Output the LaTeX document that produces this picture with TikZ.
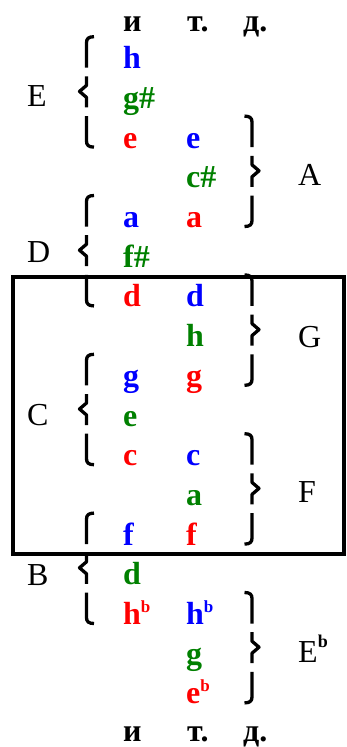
\documentclass[tikz,border=0pt]{standalone}
\usepackage{fontspec}
\setmainfont{Liberation Serif}
\newcommand\notefont{\fontsize{32}{32}\selectfont\bfseries}
\newcommand\lblfont{\fontsize{32}{32}\selectfont}
\newcommand\nflat{\raisebox{12pt}{\fontsize{17}{17}\selectfont\bfseries b}}
\newcommand\lflat{\raisebox{15pt}{\fontsize{18}{18}\selectfont\bfseries b}}
\definecolor{nblue}{RGB}{0,0,255}
\definecolor{nred}{RGB}{255,0,0}
\definecolor{ngreen}{RGB}{0,128,0}
\tikzset{
  note/.style={font=\notefont, anchor=base west, inner sep=0pt},
  lbl/.style={font=\lblfont, anchor=base west, inner sep=0pt},
  piece/.style={line width=3.3pt, line join=round},
  % three-row brace built from an upper hook, a pointed middle and a lower hook
  chordbrace/.pic={
    \draw[piece] (7.5,-32) .. controls (2,-32) and (0,-30) .. (0,-26) -- (0,-1);
    \draw[piece] (0,7.7) -- (0,16.7) -- (-7,22.7) -- (0,28.7) -- (0,38.7);
    \draw[piece] (0,47.4) -- (0,72.4) .. controls (0,76.4) and (2,78.4) .. (7.5,78.4);
  }
}
\begin{document}
\begin{tikzpicture}[x=1pt,y=-1pt]
\useasboundingbox (0,0) rectangle (347,747);

% frame round the middle part of the circle
\draw[line width=4pt] (12.5,277) rectangle (344,554);

% "и т. д." at both ends
\node[note] (top1) at (123,31) {и};
\node[note] (top2) at (187,31) {т.};
\node[note] (top3) at (243,31) {д.};
\node[note] (bot1) at (123,741) {и};
\node[note] (bot2) at (187,741) {т.};
\node[note] (bot3) at (243,741) {д.};

% notes, first column
\node[note,text=nblue]  (a1)  at (123,68.7)  {h};
\node[note,text=ngreen] (a2)  at (123,108.4) {g\#};
\node[note,text=nred]   (a3)  at (123,148.1) {e};
\node[note,text=nblue]  (a5)  at (123,227.5) {a};
\node[note,text=ngreen] (a6)  at (123,267.2) {f\#};
\node[note,text=nred]   (a7)  at (123,306.9) {d};
\node[note,text=nblue]  (a9)  at (123,386.3) {g};
\node[note,text=ngreen] (a10) at (123,426.0) {e};
\node[note,text=nred]   (a11) at (123,465.7) {c};
\node[note,text=nblue]  (a13) at (123,545.1) {f};
\node[note,text=ngreen] (a14) at (123,584.8) {d};
\node[note,text=nred]   (a15) at (123,624.5) {h\nflat};

% notes, second column
\node[note,text=nblue]  (b3)  at (186,148.1) {e};
\node[note,text=ngreen] (b4)  at (186,187.8) {c\#};
\node[note,text=nred]   (b5)  at (186,227.5) {a};
\node[note,text=nblue]  (b7)  at (186,306.9) {d};
\node[note,text=ngreen] (b8)  at (186,346.6) {h};
\node[note,text=nred]   (b9)  at (186,386.3) {g};
\node[note,text=nblue]  (b11) at (186,465.7) {c};
\node[note,text=ngreen] (b12) at (186,505.4) {a};
\node[note,text=nred]   (b13) at (186,545.1) {f};
\node[note,text=nblue]  (b15) at (186,624.5) {h\nflat};
\node[note,text=ngreen] (b16) at (186,664.2) {g};
\node[note,text=nred]   (b17) at (186,703.9) {e\nflat};

% braces on the left
\pic at (86.5,68.7)  {chordbrace};
\pic at (86.5,227.5) {chordbrace};
\pic at (86.5,386.3) {chordbrace};
\pic at (86.5,545.1) {chordbrace};

% braces on the right
\pic[xscale=-1] at (252,148.1) {chordbrace};
\pic[xscale=-1] at (252,306.9) {chordbrace};
\pic[xscale=-1] at (252,465.7) {chordbrace};
\pic[xscale=-1] at (252,624.5) {chordbrace};

% chord names
\node[lbl] (kE) at (27,106) {E};
\node[lbl] (kD) at (27,262) {D};
\node[lbl] (kC) at (27,425) {C};
\node[lbl] (kB) at (27,585) {B};
\node[lbl] (kA) at (298,185) {A};
\node[lbl] (kG) at (298,347) {G};
\node[lbl] (kF) at (298,502) {F};
\node[lbl] (kEb) at (298,662) {E\lflat};
\end{tikzpicture}
\end{document}
